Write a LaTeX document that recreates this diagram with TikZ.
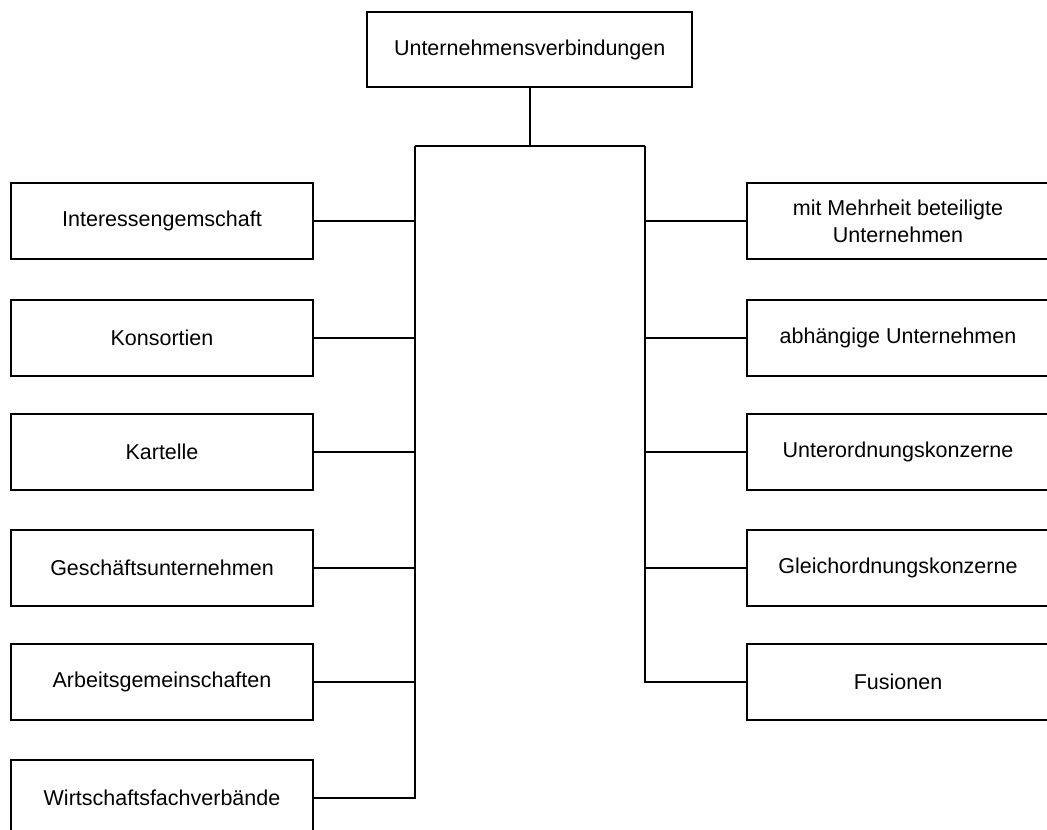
\documentclass[tikz,border=0pt]{standalone}
\usepackage{fontspec}
\setmainfont{Liberation Sans}
\begin{document}
\begin{tikzpicture}[x=1pt,y=-1pt,
  box/.style={draw,line width=1.8pt,inner sep=0pt,minimum width=302pt,minimum height=76pt,
    align=center,font=\fontsize{21.5}{27.7}\selectfont},
  topbox/.style={box,minimum width=325pt,minimum height=75pt},
  link/.style={line width=1.8pt}]
\useasboundingbox (0,0) rectangle (1047,830);

% root
\node[topbox] (root) at (529.7,49.5) {Unternehmensverbindungen};

% left column
\node[box] (l1) at (162,221.3) {Interessengemschaft};
\node[box] (l2) at (162,337.7) {Konsortien};
\node[box] (l3) at (162,451.8) {Kartelle};
\node[box] (l4) at (162,567.7) {Geschäftsunternehmen};
\node[box] (l5) at (162,682.3) {Arbeitsgemeinschaften};
\node[box] (l6) at (162,798) {Wirtschaftsfachverbände};

% right column
\node[box] (r1) at (898,221.3) {mit Mehrheit beteiligte\\Unternehmen};
\node[box] (r2) at (898,337.7) {abhängige Unternehmen};
\node[box] (r3) at (898,451.8) {Unterordnungskonzerne};
\node[box] (r4) at (898,567.7) {Gleichordnungskonzerne};
\node[box] (r5) at (898,682.3) {Fusionen};

% bus lines
\coordinate (hub) at (529.7,146);
\coordinate (lbus) at (415,146);
\coordinate (rbus) at (645,146);

\draw[link] (root.south) -- (hub);
\draw[link] (lbus) -- (rbus);
\draw[link] (lbus) |- (l6.east);
\draw[link] (rbus) |- (r5.west);
\foreach \n in {l1,l2,l3,l4,l5}
  \draw[link] (\n.east) -- (\n.east -| lbus);
\foreach \n in {r1,r2,r3,r4}
  \draw[link] (\n.west) -- (\n.west -| rbus);
\end{tikzpicture}
\end{document}
